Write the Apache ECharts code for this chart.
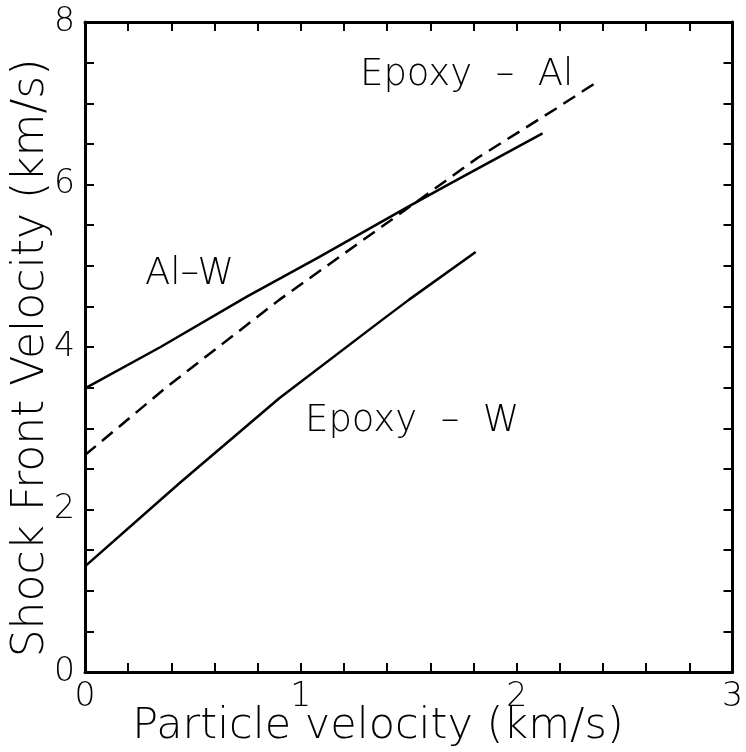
<!DOCTYPE html>
<html>
<head>
<meta charset="utf-8">
<script src="https://cdn.jsdelivr.net/npm/echarts@6/dist/echarts.min.js"></script>
<style>
  html, body { margin: 0; padding: 0; background: #fff; }
  #chart { width: 746px; height: 752px; }
</style>
</head>
<body>
<div id="chart"></div>
<script>
// Shock front velocity (Us) against particle velocity (up) for three material pairs
const alW_up = [0, 0.35, 0.75, 1.08, 1.50, 1.67, 2.12];
const alW_us = [3.49, 4.00, 4.62, 5.10, 5.73, 5.98, 6.63];

const epoxyAl_up = [0, 0.38, 0.90, 1.48, 1.82, 2.18, 2.365];
const epoxyAl_us = [2.67, 3.51, 4.58, 5.68, 6.33, 6.93, 7.25];

const epoxyW_up = [0, 0.44, 0.90, 1.36, 1.50, 1.81];
const epoxyW_us = [1.30, 2.33, 3.37, 4.30, 4.58, 5.17];

const xTickLabels = [0, 1, 2, 3];
const yTickLabels = [0, 2, 4, 6, 8];

const FONT = 'DejaVu Sans';
const zip = (a, b) => a.map((v, i) => [v, b[i]]);
const isLabelled = (list, v) => list.some(t => Math.abs(t - v) < 1e-6);

const tickStyle = { show: true, inside: true, length: 9, lineStyle: { color: '#000', width: 2 } };
const lineStyleAxis = { show: true, onZero: false, lineStyle: { color: '#000', width: 3 } };

const curve = (name, up, us, dash) => ({
  name, type: 'line', showSymbol: false, smooth: false,
  data: zip(up, us),
  lineStyle: { color: '#000', width: 2.5, type: dash || 'solid', join: 'round' }
});

const chart = echarts.init(document.getElementById('chart'), null, { renderer: 'canvas' });

chart.setOption({
  animation: false,
  backgroundColor: '#fff',
  grid: { left: 85, right: 10, top: 22, bottom: 80 },
  xAxis: [
    {
      type: 'value', min: 0, max: 3, interval: 0.2, position: 'bottom',
      axisLine: lineStyleAxis, axisTick: tickStyle, splitLine: { show: false },
      axisLabel: {
        margin: 9, color: '#000', fontFamily: FONT, fontSize: 33, fontWeight: 200,
        formatter: v => isLabelled(xTickLabels, v) ? String(Math.round(v)) : ''
      }
    },
    {
      type: 'value', min: 0, max: 3, interval: 0.2, position: 'top',
      axisLine: lineStyleAxis, axisTick: tickStyle, splitLine: { show: false },
      axisLabel: { show: false }
    }
  ],
  yAxis: [
    {
      type: 'value', min: 0, max: 8, interval: 0.5, position: 'left',
      axisLine: lineStyleAxis, axisTick: tickStyle, splitLine: { show: false },
      axisLabel: {
        margin: 10, color: '#000', fontFamily: FONT, fontSize: 33, fontWeight: 200,
        formatter: v => isLabelled(yTickLabels, v) ? String(Math.round(v)) : ''
      }
    },
    {
      type: 'value', min: 0, max: 8, interval: 0.5, position: 'right',
      axisLine: lineStyleAxis, axisTick: tickStyle, splitLine: { show: false },
      axisLabel: { show: false }
    }
  ],
  series: [
    curve('Al-W', alW_up, alW_us),
    curve('Epoxy-Al', epoxyAl_up, epoxyAl_us, [14, 8]),
    curve('Epoxy-W', epoxyW_up, epoxyW_us)
  ],
  graphic: [
    {
      type: 'text', x: 378, y: 727,
      style: { text: 'Particle velocity (km/s)', fill: '#000', font: `200 43px "${FONT}"`, align: 'center', verticalAlign: 'middle' }
    },
    {
      type: 'text', x: 32, y: 358, rotation: Math.PI / 2,
      style: { text: 'Shock Front Velocity (km/s)', fill: '#000', font: `200 44px "${FONT}"`, align: 'center', verticalAlign: 'middle' }
    },
    {
      type: 'text', x: 360, y: 75,
      style: { text: 'Epoxy  –  Al', fill: '#000', font: `200 37px "${FONT}"`, align: 'left', verticalAlign: 'middle' }
    },
    {
      type: 'text', x: 145, y: 274,
      style: { text: 'Al–W', fill: '#000', font: `200 37px "${FONT}"`, align: 'left', verticalAlign: 'middle' }
    },
    {
      type: 'text', x: 305, y: 421,
      style: { text: 'Epoxy  –  W', fill: '#000', font: `200 37px "${FONT}"`, align: 'left', verticalAlign: 'middle' }
    }
  ]
});
</script>
</body>
</html>
